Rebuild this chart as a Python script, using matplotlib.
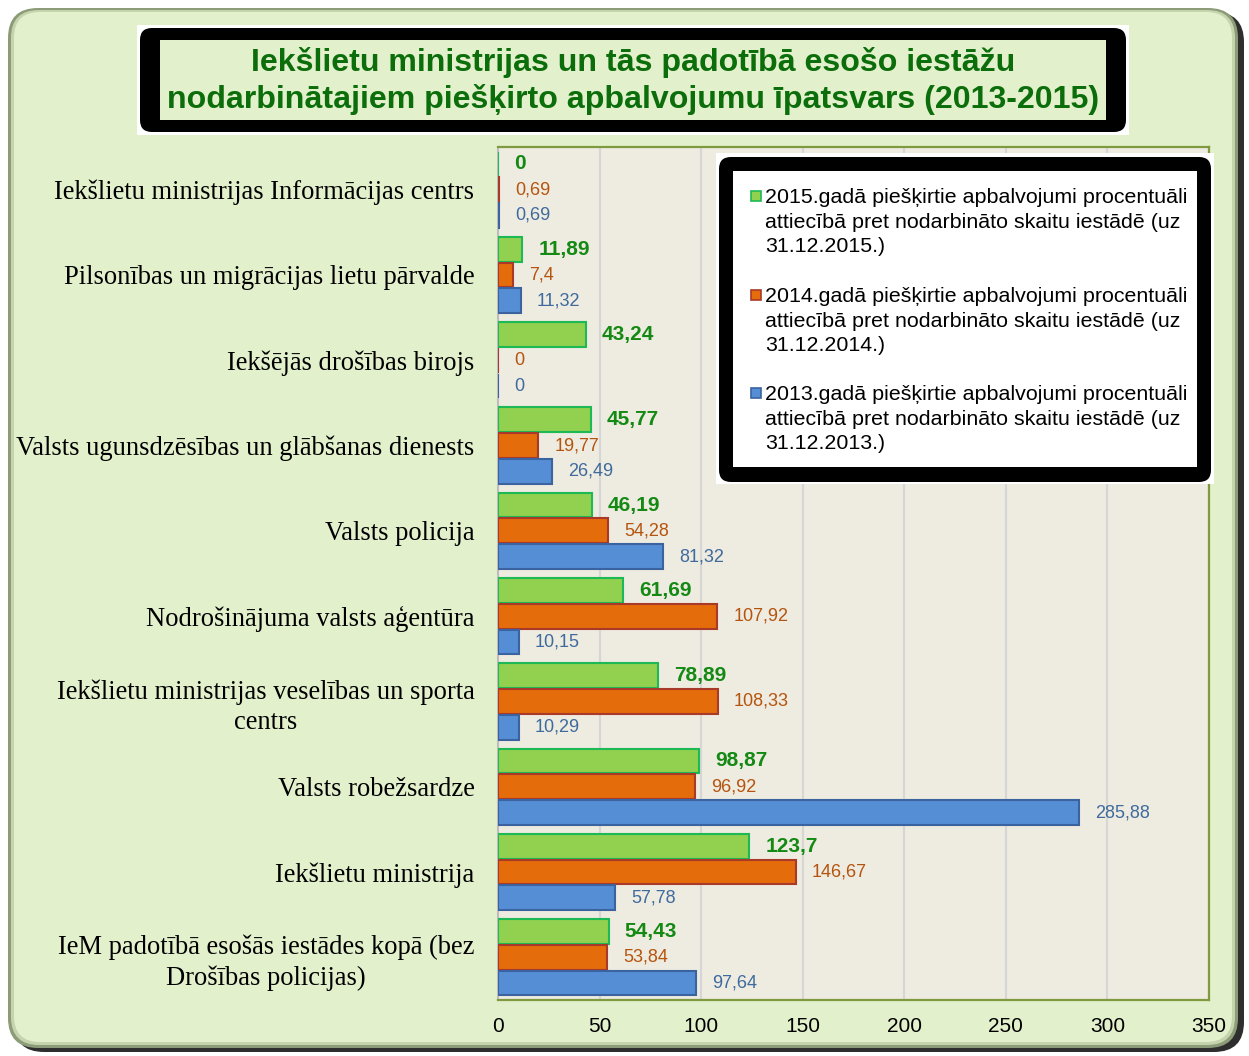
import matplotlib
matplotlib.use("Agg")
import matplotlib.pyplot as plt
from matplotlib.patches import FancyBboxPatch, Rectangle
import numpy as np

# ---------------- data ----------------
categories = [
    "Iekšlietu ministrijas Informācijas centrs",
    "Pilsonības un migrācijas lietu pārvalde",
    "Iekšējās drošības birojs",
    "Valsts ugunsdzēsības un glābšanas dienests",
    "Valsts policija",
    "Nodrošinājuma valsts aģentūra",
    "Iekšlietu ministrijas veselības un sporta\ncentrs",
    "Valsts robežsardze",
    "Iekšlietu ministrija",
    "IeM padotībā esošās iestādes kopā (bez\nDrošības policijas)",
]
values_2015 = [0, 11.89, 43.24, 45.77, 46.19, 61.69, 78.89, 98.87, 123.7, 54.43]
values_2014 = [0.69, 7.4, 0, 19.77, 54.28, 107.92, 108.33, 96.92, 146.67, 53.84]
values_2013 = [0.69, 11.32, 0, 26.49, 81.32, 10.15, 10.29, 285.88, 57.78, 97.64]
series_labels = [
    "2015.gadā piešķirtie apbalvojumi procentuāli\nattiecībā pret nodarbināto skaitu iestādē (uz\n31.12.2015.)",
    "2014.gadā piešķirtie apbalvojumi procentuāli\nattiecībā pret nodarbināto skaitu iestādē (uz\n31.12.2014.)",
    "2013.gadā piešķirtie apbalvojumi procentuāli\nattiecībā pret nodarbināto skaitu iestādē (uz\n31.12.2013.)",
]
x_ticks = [0, 50, 100, 150, 200, 250, 300, 350]
title_text = ("Iekšlietu ministrijas un tās padotībā esošo iestāžu\n"
              "nodarbinātajiem piešķirto apbalvojumu īpatsvars (2013-2015)")

# ---------------- style ----------------
W, H = 1249, 1056
DPI = 100
fills = ["#92D050", "#E46C0A", "#558ED5"]
edges = ["#1DB954", "#A93A2A", "#3A63A0"]
lab_colors = ["#148A14", "#B5540F", "#3F6A9E"]
bg_green = "#E3F0CC"

fig = plt.figure(figsize=(W / DPI, H / DPI), dpi=DPI, facecolor="white")

# background layer (pixel coords)
bg = fig.add_axes([0, 0, 1, 1], zorder=0)
bg.set_xlim(0, W); bg.set_ylim(H, 0); bg.axis("off")
bg.add_patch(FancyBboxPatch((14, 12), 1230, 1040, boxstyle="round,pad=0,rounding_size=30",
                            facecolor="#2E2E2E", edgecolor="none"))
bg.add_patch(FancyBboxPatch((8, 8), 1230, 1040, boxstyle="round,pad=0,rounding_size=30",
                            facecolor="#8C9B78", edgecolor="none"))
bg.add_patch(FancyBboxPatch((11, 10), 1224, 1035, boxstyle="round,pad=0,rounding_size=28",
                            facecolor="#C6D4AE", edgecolor="none"))
bg.add_patch(FancyBboxPatch((14, 12), 1218, 1030, boxstyle="round,pad=0,rounding_size=26",
                            facecolor=bg_green, edgecolor="none"))

# main axes
left, right, top, bottom = 498, 1209, 147, 1000
ax = fig.add_axes([left / W, 1 - bottom / H, (right - left) / W, (bottom - top) / H], zorder=1)
ax.set_facecolor("#EEEBE0")

n = len(categories)
y = np.arange(n)
off = 0.302
h = 0.29
series = [values_2015, values_2014, values_2013]
offsets = [-off, 0, off]
for vals, dy, fc, ec, lc, wt, fs in zip(series, offsets, fills, edges, lab_colors,
                                        ["bold", "normal", "normal"], [15, 13, 13]):
    ax.barh(y + dy, vals, height=h, color=fc, edgecolor=ec, linewidth=1.5, zorder=3)
    for yi, v in zip(y, vals):
        ax.annotate(f"{v:g}".replace(".", ","), xy=(v, yi + dy), xytext=(11.5, 0),
                    textcoords="offset points", va="center", ha="left",
                    fontsize=fs, fontweight=wt, color=lc, family="Liberation Sans", zorder=4)

ax.set_xlim(0, 350)
ax.set_ylim(n - 0.5, -0.5)
ax.set_xticks(x_ticks)
ax.set_xticklabels([str(t) for t in x_ticks], fontsize=15, family="Liberation Sans")
ax.set_yticks(y)
ax.set_yticklabels(categories, fontsize=19.1, family="Liberation Serif")
for lbl in ax.get_yticklabels():
    lbl.set_multialignment("center")
    lbl.set_linespacing(1.27)
ax.tick_params(axis="both", length=0)
ax.tick_params(axis="x", pad=12)
ax.tick_params(axis="y", pad=17)
ax.grid(axis="x", color="#D6D6D6", linewidth=1.5, zorder=0)
ax.set_axisbelow(True)
for s in ["top", "right", "bottom"]:
    ax.spines[s].set_color("#7F9A3F")
    ax.spines[s].set_linewidth(1.6)
ax.spines["left"].set_color("#BDBDBD")
ax.spines["left"].set_linewidth(1.5)

# overlay layer (pixel coords)
ov = fig.add_axes([0, 0, 1, 1], zorder=2)
ov.set_xlim(0, W); ov.set_ylim(H, 0); ov.axis("off")
ov.patch.set_alpha(0)

# title box
ov.add_patch(Rectangle((137, 25), 992, 110, facecolor="white", edgecolor="none"))
ov.add_patch(FancyBboxPatch((140, 28), 986, 104, boxstyle="round,pad=0,rounding_size=12",
                            facecolor="black", edgecolor="none"))
ov.add_patch(Rectangle((160, 40), 946, 80, facecolor=bg_green, edgecolor="none"))
ov.text(633, 81, title_text, ha="center", va="center", fontsize=23.1, fontweight="bold",
        color="#0B6E0B", family="Liberation Sans", linespacing=1.22)

# legend box
ov.add_patch(Rectangle((716, 153), 498, 331, facecolor="white", edgecolor="none"))
ov.add_patch(FancyBboxPatch((719, 157), 492, 325, boxstyle="round,pad=0,rounding_size=12",
                            facecolor="black", edgecolor="none"))
ov.add_patch(Rectangle((733, 171), 464, 296, facecolor="white", edgecolor="none"))
entry_y = [196, 295, 393]
for ey, lbl, fc, ec in zip(entry_y, series_labels, fills, edges):
    ov.add_patch(Rectangle((751, ey - 5), 10, 10, facecolor=fc, edgecolor=ec, linewidth=1.2))
    ov.text(765, ey - 8, lbl, ha="left", va="top", fontsize=15.4, color="black",
            family="Liberation Sans", linespacing=1.37)

fig.savefig("out.png", dpi=DPI, facecolor="white")
